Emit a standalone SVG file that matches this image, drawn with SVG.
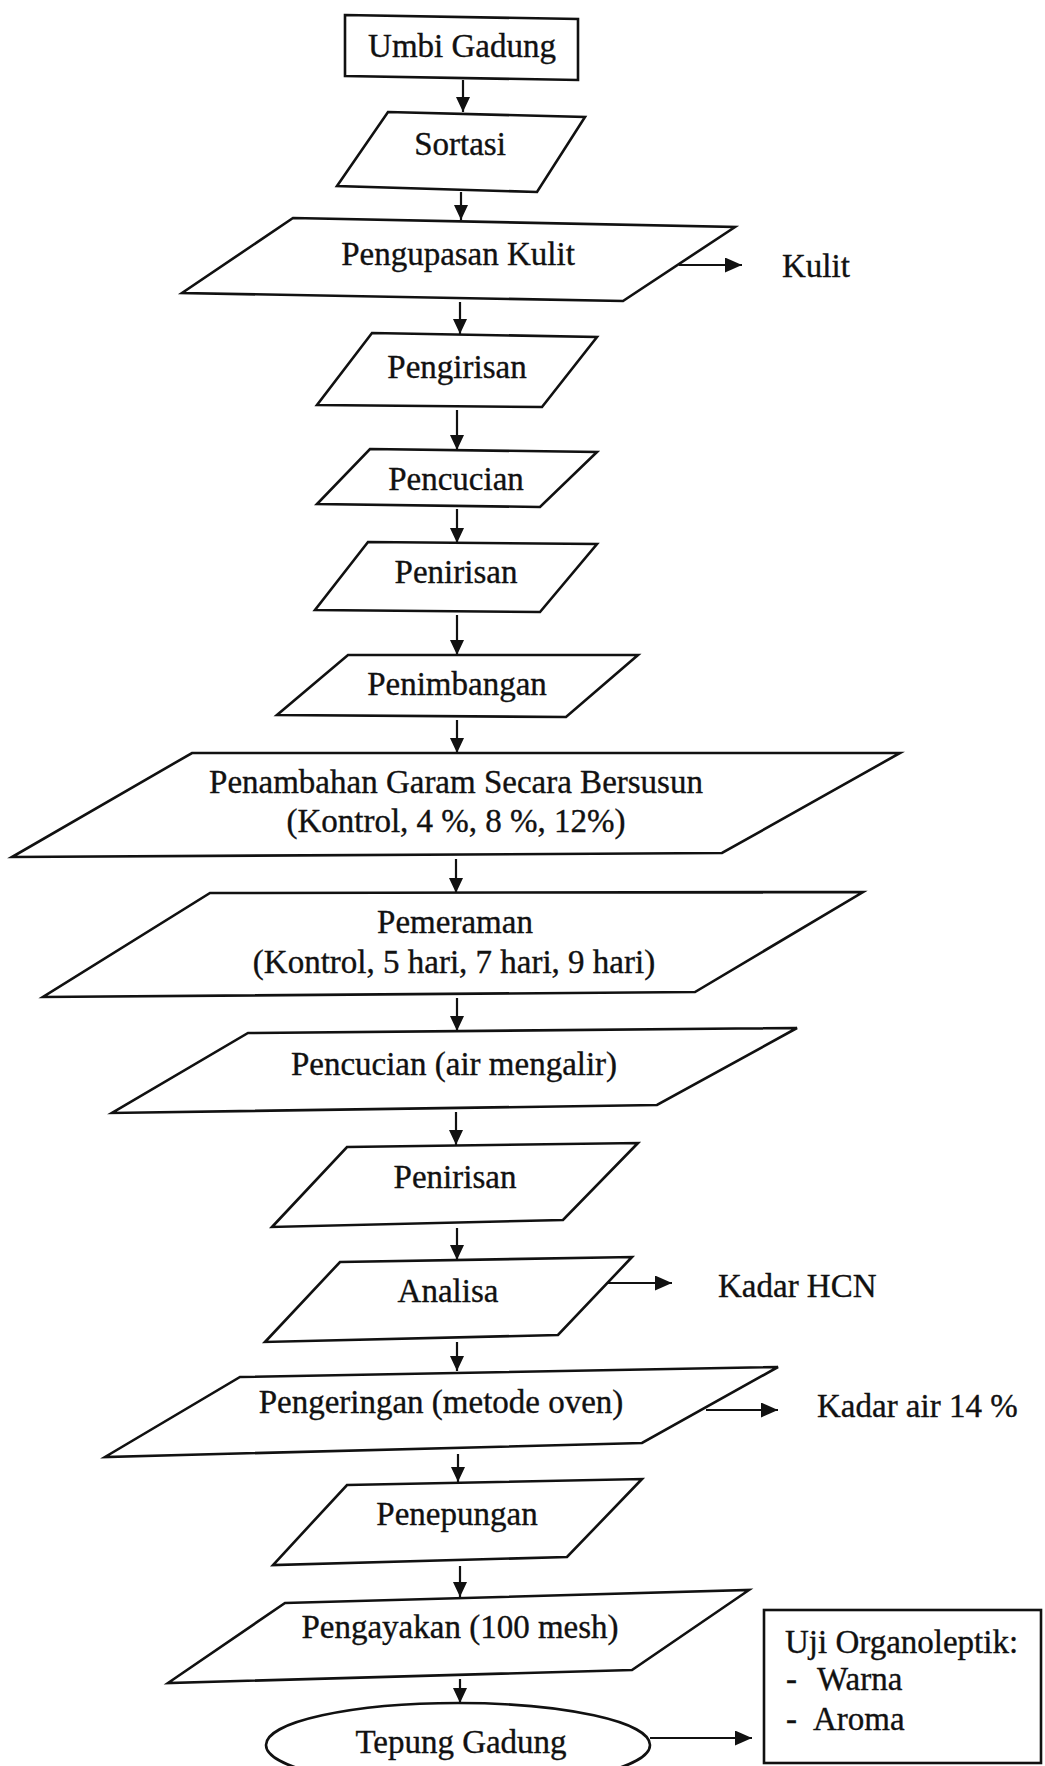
<svg xmlns="http://www.w3.org/2000/svg" width="1045" height="1766" viewBox="0 0 1045 1766">
<defs>
<marker id="ah" markerUnits="userSpaceOnUse" markerWidth="19" markerHeight="16" refX="17" refY="7.5" orient="auto">
<path d="M0,0 L17,7.5 L0,15 Z" fill="#111"/>
</marker>
<marker id="ahs" markerUnits="userSpaceOnUse" markerWidth="17" markerHeight="16" refX="15" refY="7" orient="auto">
<path d="M0,0 L15,7 L0,14 Z" fill="#111"/>
</marker>
<style>
.s{fill:#fff;stroke:#111;stroke-width:2.6;stroke-linejoin:miter}
.t{font-family:"Liberation Serif","Times New Roman",serif;font-size:33px;fill:#111;stroke:#111;stroke-width:0.35;text-anchor:middle}
.l{font-family:"Liberation Serif","Times New Roman",serif;font-size:33px;fill:#111;stroke:#111;stroke-width:0.35;text-anchor:start}
.c{stroke:#111;stroke-width:2.2;fill:none}
</style>
</defs>
<rect width="1045" height="1766" fill="#fff"/>

<g id="connectors">
<line class="c" x1="463" y1="80" x2="463" y2="112" marker-end="url(#ahs)"/>
<line class="c" x1="461" y1="192" x2="461" y2="220" marker-end="url(#ahs)"/>
<line class="c" x1="460" y1="302" x2="460" y2="334" marker-end="url(#ahs)"/>
<line class="c" x1="457" y1="410" x2="457" y2="450" marker-end="url(#ahs)"/>
<line class="c" x1="457" y1="509" x2="457" y2="543" marker-end="url(#ahs)"/>
<line class="c" x1="457" y1="615" x2="457" y2="655" marker-end="url(#ahs)"/>
<line class="c" x1="457" y1="720" x2="457" y2="753" marker-end="url(#ahs)"/>
<line class="c" x1="456" y1="859" x2="456" y2="893" marker-end="url(#ahs)"/>
<line class="c" x1="457" y1="998" x2="457" y2="1031" marker-end="url(#ahs)"/>
<line class="c" x1="456" y1="1112" x2="456" y2="1145" marker-end="url(#ahs)"/>
<line class="c" x1="457" y1="1228" x2="457" y2="1260" marker-end="url(#ahs)"/>
<line class="c" x1="457" y1="1342" x2="457" y2="1371" marker-end="url(#ahs)"/>
<line class="c" x1="458" y1="1454" x2="458" y2="1482" marker-end="url(#ahs)"/>
<line class="c" x1="460" y1="1566" x2="460" y2="1597" marker-end="url(#ahs)"/>
<line class="c" x1="460" y1="1679" x2="460" y2="1703" marker-end="url(#ahs)"/>
<line class="c" x1="679" y1="265" x2="742" y2="265" marker-end="url(#ah)"/>
<line class="c" x1="607" y1="1283" x2="672" y2="1283" marker-end="url(#ah)"/>
<line class="c" x1="706" y1="1410" x2="778" y2="1410" marker-end="url(#ah)"/>
<line class="c" x1="650" y1="1738" x2="752" y2="1738" marker-end="url(#ah)"/>
</g>

<g id="n-umbi">
<polygon class="s" points="345,15 578,19 578,80 345,76"/>
<text class="t" x="462" y="57">Umbi Gadung</text>
</g>
<g id="n-sortasi">
<polygon class="s" points="388,112 585,117 537,192 337,186"/>
<text class="t" x="460" y="155">Sortasi</text>
</g>
<g id="n-pengupasan">
<polygon class="s" points="293,218 735,227 623,301 182,293"/>
<text class="t" x="458" y="265">Pengupasan Kulit</text>
</g>
<text id="o-kulit" class="l" x="782" y="277">Kulit</text>
<g id="n-pengirisan">
<polygon class="s" points="372,333 597,337 542,407 317,405"/>
<text class="t" x="457" y="378">Pengirisan</text>
</g>
<g id="n-pencucian">
<polygon class="s" points="370,449 597,452 540,507 317,504"/>
<text class="t" x="456" y="490">Pencucian</text>
</g>
<g id="n-penirisan1">
<polygon class="s" points="368,542 597,544 540,612 315,610"/>
<text class="t" x="456" y="583">Penirisan</text>
</g>
<g id="n-penimbangan">
<polygon class="s" points="348,655 638,655 566,717 277,715"/>
<text class="t" x="457" y="695">Penimbangan</text>
</g>
<g id="n-penambahan">
<polygon class="s" points="192,753 900,753 722,853 12,857"/>
<text class="t" x="456" y="793">Penambahan Garam Secara Bersusun</text>
<text class="t" x="456" y="832">(Kontrol, 4 %, 8 %, 12%)</text>
</g>
<g id="n-pemeraman">
<polygon class="s" points="210,893 863,892 695,992 43,997"/>
<text class="t" x="455" y="933">Pemeraman</text>
<text class="t" x="454" y="973">(Kontrol, 5 hari, 7 hari, 9 hari)</text>
</g>
<g id="n-pencucian2">
<polygon class="s" points="248,1033 797,1028 657,1105 112,1113"/>
<text class="t" x="454" y="1075">Pencucian (air mengalir)</text>
</g>
<g id="n-penirisan2">
<polygon class="s" points="347,1147 638,1143 563,1220 272,1227"/>
<text class="t" x="455" y="1188">Penirisan</text>
</g>
<g id="n-analisa">
<polygon class="s" points="340,1262 632,1257 558,1335 265,1342"/>
<text class="t" x="448" y="1302">Analisa</text>
</g>
<text id="o-hcn" class="l" x="718" y="1297">Kadar HCN</text>
<g id="n-pengeringan">
<polygon class="s" points="240,1377 778,1367 642,1443 105,1457"/>
<text class="t" x="441" y="1413">Pengeringan (metode oven)</text>
</g>
<text id="o-air" class="l" x="817" y="1417">Kadar air 14 %</text>
<g id="n-penepungan">
<polygon class="s" points="347,1485 642,1479 567,1557 273,1565"/>
<text class="t" x="457" y="1525">Penepungan</text>
</g>
<g id="n-pengayakan">
<polygon class="s" points="285,1603 749,1590 632,1670 168,1683"/>
<text class="t" x="460" y="1638">Pengayakan (100 mesh)</text>
</g>
<g id="n-tepung">
<ellipse class="s" cx="458" cy="1745" rx="192" ry="42"/>
<text class="t" x="461" y="1753">Tepung Gadung</text>
</g>
<g id="n-uji">
<rect class="s" x="764" y="1610" width="277" height="153"/>
<text class="l" x="785" y="1653">Uji Organoleptik:</text>
<text class="l" x="786" y="1690">-</text>
<text class="l" x="817" y="1690">Warna</text>
<text class="l" x="786" y="1730">-</text>
<text class="l" x="813" y="1730">Aroma</text>
</g>
</svg>
